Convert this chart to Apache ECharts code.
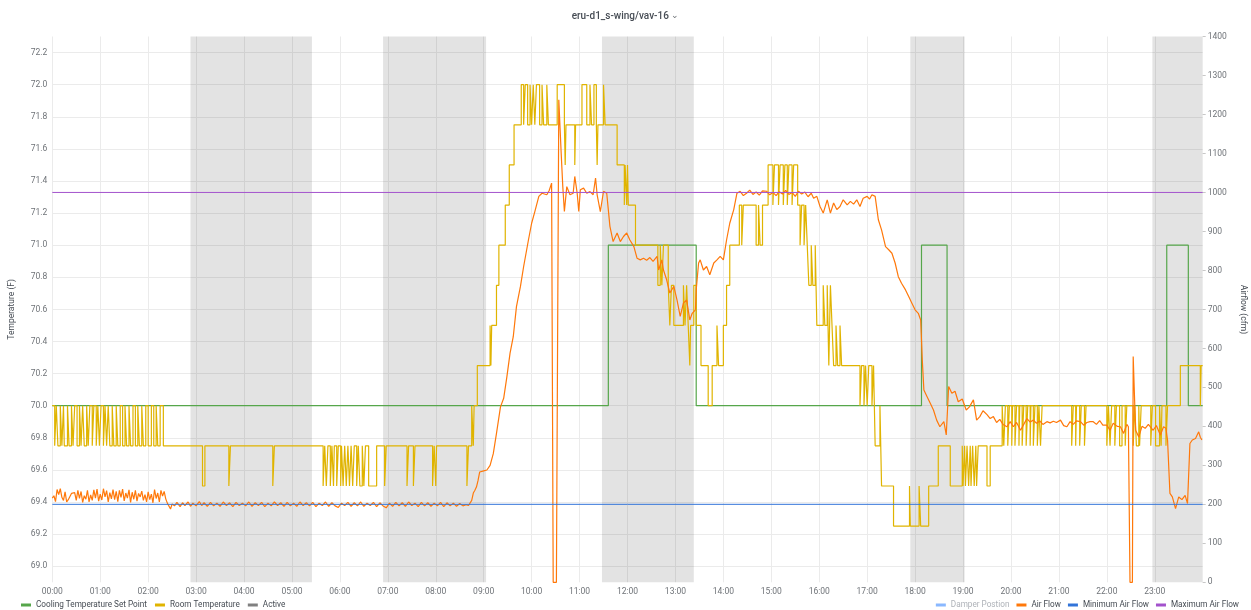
<!DOCTYPE html>
<html>
<head>
<meta charset="utf-8">
<script src="https://cdn.jsdelivr.net/npm/echarts/dist/echarts.min.js"></script>
<style>
  html, body { margin: 0; padding: 0; background: #fff; }
  #vavChart { width: 1251px; height: 610px; }
</style>
</head>
<body>
<div id="vavChart"></div>
<script>
// x axis is minutes since 00:00
const hourLabels = ["00:00", "01:00", "02:00", "03:00", "04:00", "05:00", "06:00", "07:00",
  "08:00", "09:00", "10:00", "11:00", "12:00", "13:00", "14:00", "15:00", "16:00", "17:00",
  "18:00", "19:00", "20:00", "21:00", "22:00", "23:00"];

// occupied / active periods (grey bands), [start, end] in minutes
const activeBands = [[173, 325], [414, 543], [688, 803], [1074, 1142], [1377, 1440]];

// cooling set point (F), value holds from the given minute
const setPoint = [[0, 70.0], [696, 71.0], [806, 70.0], [1088, 71.0], [1120, 70.0],
  [1395, 71.0], [1422, 70.0], [1440, 70.0]];

// room temperature (F), step changes
const roomTemp = [
  [0, 70.0], [3, 69.75], [5, 70.0], [7, 69.75], [10, 70.0], [12, 69.75], [14, 70.0], [15, 69.75],
  [19, 70.0], [21, 69.75], [24, 70.0], [26, 69.75], [28, 70.0], [31, 69.75], [34, 70.0], [36, 69.75],
  [38, 70.0], [40, 69.75], [43, 70.0], [45, 69.75], [47, 70.0], [50, 69.75], [52, 70.0], [55, 69.75],
  [57, 70.0], [59, 69.75], [61, 70.0], [64, 69.75], [66, 70.0], [68, 69.75], [70, 70.0], [72, 69.75],
  [75, 70.0], [77, 69.75], [80, 70.0], [82, 69.75], [85, 70.0], [88, 69.75], [91, 70.0], [93, 69.75],
  [96, 70.0], [98, 69.75], [101, 70.0], [104, 69.75], [107, 70.0], [109, 69.75], [112, 70.0], [114, 69.75],
  [117, 70.0], [120, 69.75], [124, 70.0], [127, 69.75], [130, 70.0], [132, 69.75], [135, 70.0], [139, 69.75],
  [188, 69.5], [191, 69.75], [221, 69.5], [223, 69.75], [276, 69.5], [278, 69.75],
  [339, 69.5], [341, 69.75], [343, 69.5], [345, 69.75], [348, 69.5], [350, 69.75], [352, 69.5], [353, 69.75],
  [356, 69.5], [358, 69.75], [361, 69.5], [362, 69.75], [364, 69.5], [366, 69.75], [368, 69.5], [370, 69.75],
  [372, 69.5], [374, 69.75], [376, 69.5], [378, 69.75], [381, 69.5], [383, 69.75], [385, 69.5], [388, 69.75],
  [390, 69.5], [392, 69.75], [396, 69.5], [406, 69.75], [416, 69.5], [418, 69.75], [444, 69.5], [446, 69.75],
  [452, 69.5], [454, 69.75], [476, 69.5], [478, 69.75], [480, 69.5], [481, 69.75], [519, 69.5], [521, 69.75],
  [525, 70.0], [527, 69.75], [528, 70.0], [532, 70.25], [548, 70.5], [549, 70.25], [550, 70.5], [556, 70.75],
  [559, 71.0], [567, 71.25], [572, 71.5], [578, 71.75], [587, 72.0], [590, 71.75], [592, 72.0], [595, 71.75],
  [598, 72.0], [600, 71.75], [602, 72.0], [604, 71.75], [606, 72.0], [610, 71.75], [613, 72.0], [615, 71.75],
  [619, 72.0], [621, 71.75], [632, 72.0], [641, 71.75], [642, 71.5], [643, 71.75], [654, 71.5], [655, 71.75],
  [663, 72.0], [669, 71.75], [673, 72.0], [675, 71.75], [678, 72.0], [681, 71.75], [682, 71.5], [683, 71.75],
  [690, 72.0], [692, 71.75], [707, 71.5], [716, 71.25], [717, 71.5], [719, 71.25], [720, 71.5], [721, 71.25],
  [730, 71.0], [758, 70.75], [761, 71.0], [763, 70.75], [765, 71.0], [771, 70.75], [773, 70.5], [775, 70.75],
  [778, 70.5], [790, 70.75], [792, 70.5], [794, 70.75], [796, 70.5], [798, 70.25], [799, 70.5], [803, 70.75],
  [806, 70.5], [812, 70.25], [821, 70.0], [826, 70.25], [832, 70.5], [834, 70.25], [840, 70.5], [844, 70.75],
  [848, 71.0], [860, 71.25], [863, 71.0], [865, 71.25], [881, 71.0], [884, 71.25], [886, 71.0], [889, 71.25],
  [896, 71.5], [902, 71.25], [904, 71.5], [909, 71.25], [911, 71.5], [915, 71.25], [917, 71.5], [920, 71.25],
  [922, 71.5], [926, 71.25], [928, 71.5], [933, 71.25], [936, 71.0], [938, 71.25], [941, 71.0], [943, 71.25],
  [945, 71.0], [947, 70.75], [950, 71.0], [952, 70.75], [955, 71.0], [957, 70.5], [965, 70.75], [967, 70.5],
  [970, 70.75], [972, 70.25], [974, 70.75], [976, 70.5], [978, 70.25], [981, 70.5], [983, 70.25], [986, 70.5],
  [988, 70.25], [1011, 70.0], [1013, 70.25], [1016, 70.0], [1018, 70.25], [1020, 70.0], [1022, 70.25],
  [1026, 70.0], [1028, 70.25], [1030, 69.75], [1036, 70.0], [1038, 69.5], [1053, 69.25], [1073, 69.5],
  [1074, 69.25], [1085, 69.5], [1087, 69.25], [1097, 69.5], [1109, 69.75], [1124, 69.5], [1139, 69.75],
  [1140, 69.5], [1142, 69.75], [1143, 69.5], [1145, 69.75], [1147, 69.5], [1149, 69.75], [1150, 69.5],
  [1152, 69.75], [1154, 69.5], [1156, 69.75], [1157, 69.5], [1159, 69.75], [1170, 69.5], [1174, 69.75],
  [1189, 70.0], [1191, 69.75], [1193, 70.0], [1196, 69.75], [1198, 70.0], [1201, 69.75], [1202, 70.0],
  [1205, 69.75], [1207, 70.0], [1210, 69.75], [1211, 70.0], [1214, 69.75], [1216, 70.0], [1219, 69.75],
  [1221, 70.0], [1224, 69.75], [1225, 70.0], [1228, 69.75], [1230, 70.0], [1233, 69.75], [1235, 70.0],
  [1237, 69.75], [1239, 70.0], [1276, 69.75], [1278, 70.0], [1281, 69.75], [1282, 70.0], [1286, 69.75],
  [1288, 70.0], [1292, 69.75], [1294, 70.0], [1320, 69.75], [1322, 70.0], [1324, 69.75], [1326, 70.0],
  [1330, 69.75], [1332, 70.0], [1336, 69.75], [1339, 70.0], [1343, 69.75], [1345, 70.0], [1353, 69.75],
  [1355, 70.0], [1357, 69.75], [1360, 70.0], [1361, 69.75], [1363, 70.0], [1375, 69.75], [1377, 70.0],
  [1381, 69.75], [1386, 70.0], [1388, 69.75], [1389, 70.0], [1394, 69.75], [1396, 70.0], [1412, 70.25],
  [1437, 70.0], [1438, 70.25], [1440, 70.25]
];

// air flow (cfm)
const airFlow = [
  [0, 216], [2, 222], [4, 207], [6, 238], [8, 225], [10, 240], [12, 218], [14, 210], [16, 232], [18, 206],
  [20, 212], [22, 208], [24, 228], [26, 224], [28, 230], [30, 210], [32, 236], [34, 215], [36, 233], [38, 205],
  [40, 222], [42, 213], [44, 236], [46, 206], [48, 224], [50, 210], [52, 237], [54, 216], [56, 239], [58, 208],
  [60, 226], [62, 211], [64, 240], [66, 219], [68, 235], [70, 206], [72, 230], [74, 214], [76, 238], [78, 212],
  [80, 233], [82, 207], [84, 236], [86, 218], [88, 239], [90, 209], [92, 229], [94, 216], [96, 237], [98, 205],
  [100, 231], [102, 213], [104, 236], [106, 208], [108, 228], [110, 219], [112, 234], [114, 210], [116, 225],
  [118, 206], [120, 232], [122, 212], [124, 226], [126, 204], [128, 238], [130, 215], [132, 229], [134, 206],
  [136, 236], [138, 221], [140, 233], [142, 214], [144, 203], [146, 199], [148, 188], [150, 201],
  [153, 196], [156, 205], [160, 194], [163, 204], [166, 197], [170, 206], [173, 195], [176, 203], [180, 196],
  [184, 207], [187, 197], [190, 204], [194, 195], [198, 205], [202, 196], [206, 203], [210, 195], [214, 206],
  [218, 197], [222, 204], [226, 194], [230, 205], [234, 197], [238, 203], [242, 196], [246, 206], [250, 195],
  [254, 204], [258, 197], [262, 205], [266, 194], [270, 203], [274, 196], [278, 206], [282, 197], [286, 204],
  [290, 195], [294, 205], [298, 196], [302, 203], [306, 195], [310, 206], [314, 197], [318, 204], [322, 196],
  [326, 205], [330, 194], [334, 203], [338, 197], [342, 206], [346, 195], [350, 204], [354, 196], [358, 192],
  [362, 203], [366, 197], [370, 205], [374, 195], [378, 204], [382, 196], [386, 206], [390, 195], [394, 203],
  [398, 197], [402, 205], [406, 194], [410, 204], [414, 196], [418, 191], [422, 203], [426, 195], [430, 205],
  [434, 196], [438, 204], [442, 195], [446, 206], [450, 197], [454, 203], [458, 194], [462, 205], [466, 196],
  [470, 204], [474, 195], [478, 203], [482, 196], [486, 205], [490, 194], [494, 204], [498, 196], [502, 203],
  [506, 195], [510, 202], [514, 196], [518, 199], [521, 197],
  [525, 210], [527, 229], [529, 236], [531, 245], [533, 262], [535, 283], [540, 286], [544, 288], [548, 300],
  [552, 330], [556, 382], [561, 450], [565, 472], [569, 527], [573, 588], [577, 630], [581, 707], [586, 759],
  [590, 810], [596, 878], [600, 921], [604, 951], [609, 990], [613, 998], [619, 994], [622, 1005], [625, 1024],
  [627, 0], [631, 0], [634, 1238], [637, 1100], [639, 1015], [641, 951], [644, 1015], [648, 994], [652, 998],
  [654, 1041], [657, 998], [659, 951], [661, 1007], [665, 1011], [669, 998], [673, 1002], [677, 994],
  [680, 1037], [682, 994], [686, 951], [690, 1003], [694, 998], [698, 913], [702, 874], [707, 896], [711, 874],
  [715, 887], [719, 896], [723, 878], [728, 861], [732, 831], [736, 827], [740, 831], [744, 826], [748, 833],
  [752, 823], [757, 836], [759, 801], [763, 827], [765, 801], [769, 776], [773, 742], [778, 759], [782, 724],
  [786, 682], [790, 716], [794, 724], [798, 673], [801, 690], [805, 699], [806, 750], [809, 819], [811, 827],
  [815, 801], [819, 810], [823, 789], [828, 819], [832, 827], [836, 836], [840, 827], [844, 878], [848, 921],
  [853, 956], [857, 998], [861, 1003], [865, 992], [869, 998], [873, 1006], [877, 995], [881, 1001], [885, 993],
  [889, 1004], [894, 1003], [898, 994], [902, 1000], [906, 992], [910, 1002], [914, 996], [918, 1005],
  [922, 995], [926, 1000], [930, 990], [934, 1003], [938, 996], [942, 1001], [946, 989], [950, 998], [953, 985],
  [957, 990], [961, 964], [965, 947], [970, 981], [974, 947], [978, 973], [982, 956], [986, 964], [990, 981],
  [995, 968], [999, 977], [1003, 970], [1007, 981], [1011, 964], [1015, 985], [1020, 990], [1023, 983],
  [1026, 994], [1030, 990], [1034, 930], [1038, 904], [1043, 861], [1047, 853], [1051, 844], [1055, 819],
  [1059, 784], [1063, 767], [1068, 750], [1072, 733], [1076, 716], [1080, 699], [1084, 690], [1087, 673],
  [1089, 570], [1091, 493], [1095, 476], [1099, 459], [1103, 442], [1107, 416], [1111, 399], [1116, 412],
  [1119, 378], [1122, 502], [1126, 485], [1130, 490], [1134, 463], [1139, 470], [1144, 442], [1148, 450],
  [1153, 468], [1157, 416], [1161, 425], [1165, 440], [1170, 430], [1174, 420], [1178, 425], [1182, 410],
  [1186, 418], [1190, 405], [1195, 399], [1199, 412], [1203, 399], [1207, 410], [1212, 390], [1216, 405],
  [1220, 420], [1224, 411], [1228, 416], [1232, 408], [1236, 414], [1240, 405], [1245, 412], [1249, 409],
  [1253, 413], [1257, 410], [1262, 416], [1266, 402], [1270, 399], [1274, 412], [1278, 405], [1282, 414],
  [1287, 412], [1291, 403], [1295, 410], [1299, 412], [1303, 412], [1307, 405], [1311, 415], [1315, 403],
  [1320, 403], [1324, 390], [1328, 408], [1333, 400], [1337, 399], [1341, 382], [1345, 405], [1347, 399],
  [1349, 0], [1352, 0], [1353, 579], [1356, 390], [1360, 373], [1364, 400], [1368, 395], [1372, 405],
  [1378, 390], [1382, 402], [1387, 378], [1391, 399], [1394, 395], [1396, 365], [1399, 228], [1402, 219],
  [1406, 189], [1410, 219], [1414, 212], [1418, 223], [1421, 202], [1424, 356], [1427, 365], [1431, 369],
  [1435, 386], [1437, 372], [1439, 365]
];

const minAirFlow = [[0, 200], [1440, 200]];
const maxAirFlow = [[0, 1000], [1440, 1000]];

const fontFamily = "Roboto, sans-serif";
const labelColor = "#6f7378";

let chart = echarts.init(document.getElementById("vavChart"));

// thin line series helper
function lineSeries(name, data, color, yAxisIndex, width, step) {
  return {
    name: name,
    type: "line",
    data: data,
    yAxisIndex: yAxisIndex,
    step: step || false,
    showSymbol: false,
    symbol: "none",
    color: color,
    lineStyle: { color: color, width: width },
    emphasis: { disabled: true }
  };
}

let legendBase = {
  bottom: 1,
  padding: 0,
  icon: "rect",
  itemWidth: 10,
  itemHeight: 3,
  itemGap: 8,
  textStyle: { fontSize: 8.2, color: "#464c54", fontFamily: fontFamily }
};

let option = {
  animation: false,
  textStyle: { fontFamily: fontFamily },
  title: {
    text: "eru-d1_s-wing/vav-16 {c|⌄}",
    left: "center",
    top: 6,
    textStyle: {
      fontSize: 10,
      fontWeight: 500,
      color: "#464c54",
      fontFamily: fontFamily,
      rich: { c: { fontSize: 9, color: "#6f7378" } }
    }
  },
  grid: { left: 52.3, right: 48.3, top: 36.5, bottom: 27.7, outerBoundsMode: "none", containLabel: false },
  legend: [
    Object.assign({}, legendBase, {
      left: 21,
      data: ["Cooling Temperature Set Point", "Room Temperature", "Active"]
    }),
    Object.assign({}, legendBase, {
      right: 12,
      itemGap: 7,
      data: [
        { name: "Damper Postion", textStyle: { color: "#aeb2b8" } },
        "Air Flow",
        "Minimum Air Flow",
        "Maximum Air Flow"
      ]
    })
  ],
  xAxis: {
    type: "value",
    min: 0,
    max: 1440,
    interval: 60,
    axisLine: { show: false },
    axisTick: { show: false },
    axisLabel: {
      fontSize: 8.5,
      color: labelColor,
      margin: 5,
      showMaxLabel: false,
      formatter: v => hourLabels[v / 60] || ""
    },
    splitLine: { show: true, showMaxLine: false, lineStyle: { color: "#ebebeb", width: 1 } }
  },
  yAxis: [
    {
      type: "value",
      min: 68.9,
      max: 72.3,
      splitNumber: 17,
      name: "Temperature (F)",
      nameLocation: "middle",
      nameGap: 36,
      nameTextStyle: { fontSize: 8.5, color: "#464c54" },
      axisLine: { show: false },
      axisTick: { show: false },
      axisLabel: {
        fontSize: 8.5,
        color: labelColor,
        margin: 5,
        showMinLabel: false,
        showMaxLabel: false,
        formatter: v => v.toFixed(1)
      },
      splitLine: {
        show: true,
        showMinLine: false,
        showMaxLine: false,
        lineStyle: { color: "#ebebeb", width: 1 }
      }
    },
    {
      type: "value",
      min: 0,
      max: 1400,
      interval: 100,
      position: "right",
      name: "Airflow (cfm)",
      nameLocation: "middle",
      nameGap: 36,
      nameRotate: -90,
      nameTextStyle: { fontSize: 8.5, color: "#464c54" },
      axisLine: { show: false },
      axisTick: { show: true, length: 3, lineStyle: { color: "#c8c8c8" } },
      axisLabel: { fontSize: 8.5, color: labelColor, margin: 5, formatter: v => String(v) },
      splitLine: { show: false }
    }
  ],
  series: [
    lineSeries("Cooling Temperature Set Point", setPoint, "#56a64b", 0, 1.2, "end"),
    lineSeries("Room Temperature", roomTemp, "#e0b400", 0, 1.2, "end"),
    {
      name: "Active",
      type: "line",
      data: [],
      color: "#808080",
      yAxisIndex: 1,
      markArea: {
        silent: true,
        itemStyle: { color: "rgba(0, 0, 0, 0.11)" },
        data: activeBands.map(b => [{ xAxis: b[0] }, { xAxis: b[1] }])
      }
    },
    lineSeries("Damper Postion", [], "#8ab8ff", 1, 1.2),
    lineSeries("Air Flow", airFlow, "#ff780a", 1, 1.2),
    lineSeries("Minimum Air Flow", minAirFlow, "#3274d9", 1, 1),
    lineSeries("Maximum Air Flow", maxAirFlow, "#a352cc", 1, 1)
  ]
};

chart.setOption(option);
</script>
</body>
</html>
